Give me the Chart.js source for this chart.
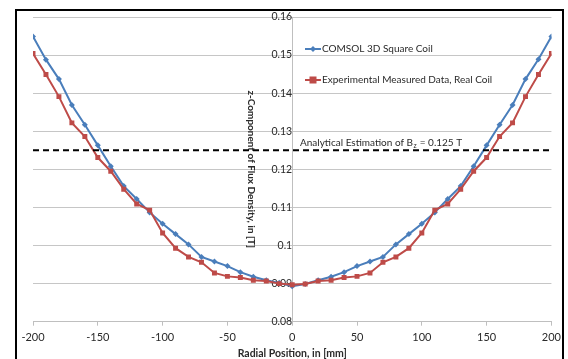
<!DOCTYPE html>
<html>
<head>
<meta charset="utf-8">
<script src="https://cdn.jsdelivr.net/npm/chart.js@4.4.1/dist/chart.umd.min.js"></script>
<style>
  html, body { margin: 0; padding: 0; background: #ffffff; }
  #wrap { width: 568px; height: 359px; position: relative; }
</style>
</head>
<body>
<div id="wrap"><canvas id="chart" width="568" height="359"></canvas></div>
<script>
// Radial positions along the coil, in mm
const radialPositions = [-200,-190,-180,-170,-160,-150,-140,-130,-120,-110,-100,-90,-80,-70,-60,-50,-40,-30,-20,-10,0,
                         10,20,30,40,50,60,70,80,90,100,110,120,130,140,150,160,170,180,190,200];

// Bz from the COMSOL 3D square-coil model, in T
const comsolValues = [0.1549,0.1488,0.1437,0.1369,0.1317,0.1263,0.1208,0.1156,0.1122,0.1087,0.1057,0.1030,0.1003,0.0970,0.0958,0.0946,0.0930,0.0918,0.0909,0.0902,0.0893,
                      0.0899,0.0909,0.0918,0.0930,0.0946,0.0958,0.0970,0.1003,0.1030,0.1057,0.1087,0.1122,0.1156,0.1208,0.1263,0.1317,0.1369,0.1437,0.1489,0.1549];

// Bz measured on the real coil, in T
const measuredValues = [0.1504,0.1449,0.1391,0.1322,0.1286,0.1231,0.1195,0.1148,0.1109,0.1093,0.1033,0.0993,0.0970,0.0956,0.0928,0.0919,0.0916,0.0909,0.0907,0.0900,0.0897,
                        0.0899,0.0907,0.0909,0.0916,0.0919,0.0928,0.0956,0.0970,0.0993,0.1033,0.1093,0.1109,0.1148,0.1195,0.1231,0.1286,0.1322,0.1391,0.1449,0.1504];

// Analytical estimate of Bz, in T
const analyticalBz = 0.125;
const analyticalSpan = [-200, 200];

const seriesNames = ['COMSOL 3D Square Coil', 'Experimental Measured Data, Real Coil'];
const xTitle = 'Radial Position, in [mm]';
const yTitle = 'z-Component of Flux Density, in [T]';

const BLUE = '#4a7ebb';
const RED = '#be4b48';
const FONT = 'Lato, "Liberation Sans", sans-serif';
const TEXT = '#2a2a2a';

const toPoints = (vals) => radialPositions.map((x, i) => ({ x: x, y: vals[i] }));

// Outer frame and white page background
const framePlugin = {
  id: 'frame',
  beforeDraw(chart) {
    const ctx = chart.ctx;
    ctx.save();
    ctx.fillStyle = '#ffffff';
    ctx.fillRect(0, 0, chart.width, chart.height);
    ctx.strokeStyle = '#000000';
    ctx.lineWidth = 2;
    ctx.strokeRect(16, 10, 547, 360);
    ctx.restore();
  }
};

// In-plot legend and the label for the analytical line
const labelsPlugin = {
  id: 'labels',
  afterDraw(chart) {
    const ctx = chart.ctx;
    const xs = chart.scales.x, ys = chart.scales.y;
    ctx.save();
    ctx.font = '10px ' + FONT;
    ctx.textBaseline = 'middle';

    // legend entry 1: line with diamond
    let ly = 49;
    ctx.strokeStyle = BLUE; ctx.lineWidth = 2;
    ctx.beginPath(); ctx.moveTo(305, ly); ctx.lineTo(321, ly); ctx.stroke();
    ctx.fillStyle = BLUE;
    ctx.beginPath(); ctx.moveTo(313, ly - 3); ctx.lineTo(316, ly); ctx.lineTo(313, ly + 3); ctx.lineTo(310, ly); ctx.closePath(); ctx.fill();
    ctx.fillStyle = TEXT;
    ctx.fillText(seriesNames[0], 322, ly);

    // legend entry 2: line with square
    ly = 80;
    ctx.strokeStyle = RED; ctx.lineWidth = 2;
    ctx.beginPath(); ctx.moveTo(305, ly); ctx.lineTo(321, ly); ctx.stroke();
    ctx.fillStyle = RED;
    ctx.fillRect(309.5, ly - 3.5, 7, 7);
    ctx.fillStyle = TEXT;
    ctx.fillText(seriesNames[1], 322, ly);

    // label above the analytical line
    const base = ys.getPixelForValue(analyticalBz) - 4;
    let tx = xs.getPixelForValue(6);
    ctx.textBaseline = 'alphabetic';
    const part1 = 'Analytical Estimation of B';
    ctx.fillText(part1, tx, base);
    tx += ctx.measureText(part1).width;
    ctx.font = '7px ' + FONT;
    ctx.fillText('z', tx + 0.5, base + 2);
    tx += ctx.measureText('z').width + 1;
    ctx.font = '10px ' + FONT;
    ctx.fillText(' = ' + analyticalBz + ' T', tx, base);
    ctx.restore();
  }
};

new Chart(document.getElementById('chart'), {
  type: 'line',
  data: {
    datasets: [
      {
        label: seriesNames[0],
        data: toPoints(comsolValues),
        borderColor: BLUE,
        backgroundColor: BLUE,
        borderWidth: 2,
        pointStyle: 'rectRot',
        pointRadius: 3,
        pointBorderWidth: 0,
        tension: 0,
        order: 2
      },
      {
        label: seriesNames[1],
        data: toPoints(measuredValues),
        borderColor: RED,
        backgroundColor: RED,
        borderWidth: 2,
        pointStyle: 'rect',
        pointRadius: 3.5,
        pointBorderWidth: 0,
        tension: 0,
        order: 1
      },
      {
        label: 'Analytical',
        data: analyticalSpan.map(x => ({ x: x, y: analyticalBz })),
        borderColor: '#000000',
        borderWidth: 2,
        borderDash: [6, 4],
        pointRadius: 0,
        order: 0
      }
    ]
  },
  options: {
    responsive: false,
    animation: false,
    layout: { padding: { left: 33, right: 15, top: 17, bottom: 0 } },
    plugins: {
      legend: { display: false },
      tooltip: { enabled: false }
    },
    scales: {
      x: {
        type: 'linear',
        min: -200, max: 200,
        ticks: { stepSize: 50, color: TEXT, font: { family: FONT, size: 11, lineHeight: 0.8 }, padding: 7, maxRotation: 0 },
        grid: { display: true, drawOnChartArea: false, drawTicks: true, tickLength: 4, color: '#bfbfbf' },
        border: { display: true, color: '#bfbfbf', width: 1 },
        title: { display: true, text: xTitle, color: TEXT, font: { family: FONT, size: 10.5, weight: 'bold', lineHeight: 1 }, padding: { top: 0, bottom: 0 } }
      },
      y: {
        type: 'linear',
        position: { x: 0 },
        min: 0.08, max: 0.16,
        ticks: {
          stepSize: 0.01,
          color: TEXT,
          font: { family: FONT, size: 10.5 },
          padding: 4,
          callback: (v) => String(Number(v.toFixed(2)))
        },
        grid: { color: '#c6c6c6', lineWidth: 1, tickLength: 6 },
        border: { display: true, color: '#bfbfbf', width: 1 },
        title: { display: true, text: yTitle, color: TEXT, font: { family: FONT, size: 10, weight: 'bold' }, padding: 0 }
      }
    }
  },
  plugins: [framePlugin, labelsPlugin]
});
</script>
</body>
</html>
